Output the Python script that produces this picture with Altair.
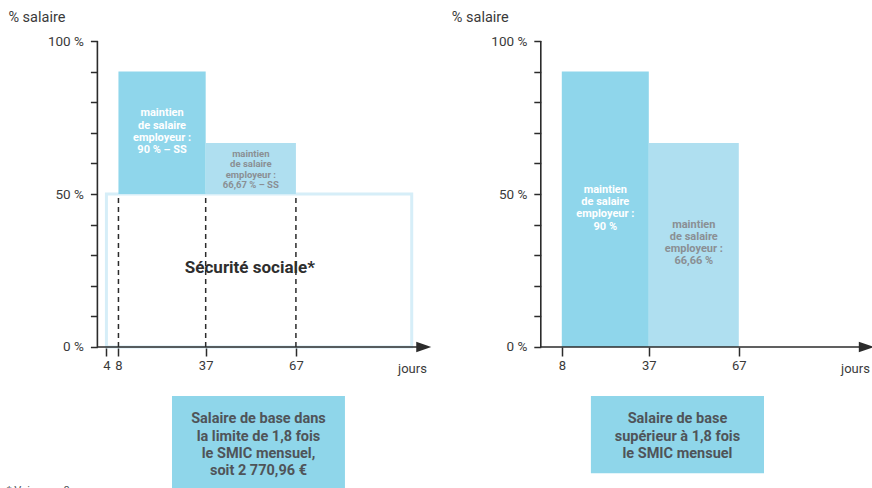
import altair as alt
import pandas as pd

# ---------------- data ----------------
y_ticks = [0, 10, 20, 30, 40, 50, 60, 70, 80, 90, 100]
left_day_ticks = [4, 8, 37, 67]
right_day_ticks = [8, 37, 67]
period_start = [8, 37]
period_end = [37, 67]
employer_rate = [90, 66.67]
ss_start_day = 4
ss_end_day = 105.5
ss_rate = 50
left_bar_labels = ["maintien\nde salaire\nemployeur :\n90 % – SS",
                   "maintien\nde salaire\nemployeur :\n66,67 % – SS"]
right_bar_labels = ["maintien\nde salaire\nemployeur :\n90 %",
                    "maintien\nde salaire\nemployeur :\n66,66 %"]
ss_label = "Sécurité sociale*"
left_box_text = "Salaire de base dans\nla limite de 1,8 fois\nle SMIC mensuel,\nsoit 2 770,96 €"
right_box_text = "Salaire de base\nsupérieur à 1,8 fois\nle SMIC mensuel"
y_title = "% salaire"
x_title = "jours"
footnote = "* Voir page 8"

# ---------------- layout / style ----------------
FONT = "Roboto"
H = 488
W_LEFT, W_RIGHT = 440, 432
Y_DOMAIN = [-46.08, 113.4]
X_DOMAIN_LEFT = [-31.38, 114.9]
X_DOMAIN_RIGHT = [-32.6, 111.4]
AXIS_DAY = 1
ARROW_DAY = 109.5
INK = "#2b2b2b"
INK2 = "#3a3a3a"
BAR_COLORS = ["#8fd6eb", "#afdff0"]
SS_STROKE = "#d6eef8"
BOX_FILL = "#8fd6ea"
BOX_TEXT = "#4f5459"
GREY_LABEL = "#8a8f94"
ARROW = "M-1,-0.7L1,0L-1,0.7Z"


def yscale():
    return alt.Scale(domain=Y_DOMAIN, nice=False, zero=False)


def xscale(dom):
    return alt.Scale(domain=dom, nice=False, zero=False)


def y_axis(offset):
    return alt.Axis(values=y_ticks,
                    labelExpr="datum.value % 50 === 0 ? datum.value + ' %' : ''",
                    domain=False, grid=False, tickSize=7, tickWidth=1.5,
                    tickColor=INK, labelPadding=7, labelFont=FONT, labelFontSize=13.5,
                    labelColor=INK2, labelOverlap=False,
                    title=y_title, titleAngle=0, titleAlign="left",
                    titleBaseline="middle", titleX=-89.5, titleY=17,
                    titleFont=FONT, titleFontSize=14.5, titleFontWeight="normal",
                    titleColor=INK2, offset=offset)


def x_axis(ticks, title_x):
    return alt.Axis(values=ticks, format="d", domain=False, grid=False,
                    tickSize=9, tickWidth=1.5, tickColor=INK, labelPadding=3,
                    labelFont=FONT, labelFontSize=13, labelColor=INK2,
                    labelOverlap=False, labelFlush=False,
                    title=x_title, titleX=title_x, titleY=21, titleBaseline="middle",
                    titleAlign="center", titleFont=FONT, titleFontSize=13,
                    titleFontWeight="normal", titleColor=INK2, offset=-141)


def panel(width, xdom, ticks, y_off, title_x, base, labels, label_specs,
          box_text, box_x, box_y, box_text_y, extra_left=False):
    xa_ = x_axis(ticks, title_x)
    ya_ = y_axis(y_off)
    X = lambda f: alt.X(f, type="quantitative", scale=xscale(xdom), axis=xa_)
    Y = lambda f: alt.Y(f, type="quantitative", scale=yscale(), axis=ya_)
    X2 = lambda f: alt.X2(f)
    Y2 = lambda f: alt.Y2(f)

    bars_df = pd.DataFrame({"start": period_start, "end": period_end,
                            "rate": employer_rate, "base": [base] * 2,
                            "color": BAR_COLORS, "label": labels})
    layers = []

    if extra_left:
        ss_df = pd.DataFrame({"s": [ss_start_day], "e": [ss_end_day],
                              "lo": [0], "hi": [ss_rate]})
        layers.append(alt.Chart(ss_df).mark_rect(
            fillOpacity=0, stroke=SS_STROKE, strokeWidth=3).encode(
            x=X("s"), x2=X2("e"), y=Y("lo"), y2=Y2("hi")))

    layers.append(alt.Chart(bars_df).mark_rect().encode(
        x=X("start"), x2=X2("end"),
        y=Y("base"), y2=Y2("rate"),
        color=alt.Color("color:N", scale=None)))

    for i, (ly, size, lh, col) in enumerate(label_specs):
        ldf = pd.DataFrame({"mid": [(period_start[i] + period_end[i]) / 2],
                            "y": [ly], "t": [labels[i]]})
        layers.append(alt.Chart(ldf).mark_text(
            font=FONT, fontWeight="bold", fontSize=size, lineHeight=lh,
            color=col, lineBreak="\n", baseline="middle", align="center").encode(
            x=X("mid"), y=Y("y"), text="t:N"))

    if extra_left:
        dash_df = pd.DataFrame({"d": period_start + [period_end[-1]],
                                "lo": [0] * 3, "hi": [ss_rate] * 3})
        layers.append(alt.Chart(dash_df).mark_rule(
            color=INK, strokeWidth=1.5, strokeDash=[5, 4]).encode(
            x=X("d"), y=Y("lo"), y2=Y2("hi")))
        sdf = pd.DataFrame({"x": [51.7], "y": [25.8], "t": [ss_label]})
        layers.append(alt.Chart(sdf).mark_text(
            font=FONT, fontWeight="bold", fontSize=17, color="#2e2e2e").encode(
            x=X("x"), y=Y("y"), text="t:N"))

    # axis lines
    ya = pd.DataFrame({"d": [AXIS_DAY], "lo": [min(y_ticks)], "hi": [max(y_ticks)]})
    layers.append(alt.Chart(ya).mark_rule(color=INK, strokeWidth=1.6).encode(
        x=X("d"), y=Y("lo"), y2=Y2("hi")))
    xa = pd.DataFrame({"a": [AXIS_DAY], "b": [ARROW_DAY], "v": [0]})
    layers.append(alt.Chart(xa).mark_rule(color=INK, strokeWidth=1.6).encode(
        x=X("a"), x2=X2("b"), y=Y("v")))
    ar = pd.DataFrame({"b": [ARROW_DAY], "v": [0]})
    layers.append(alt.Chart(ar).mark_point(
        shape=ARROW, size=225, filled=True, color=INK, opacity=1,
        strokeWidth=0, clip=True).encode(
        x=X("b"), y=Y("v")))

    # text box below
    bdf = pd.DataFrame({"x1": [box_x[0]], "x2": [box_x[1]],
                        "y1": [box_y[0]], "y2": [box_y[1]]})
    layers.append(alt.Chart(bdf).mark_rect(color=BOX_FILL, clip=True).encode(
        x=X("x1"), x2=X2("x2"), y=Y("y1"), y2=Y2("y2")))
    tdf = pd.DataFrame({"x": [(box_x[0] + box_x[1]) / 2], "y": [box_text_y],
                        "t": [box_text]})
    layers.append(alt.Chart(tdf).mark_text(
        font=FONT, fontWeight="bold", fontSize=14.5, lineHeight=17.4,
        color=BOX_TEXT, lineBreak="\n", baseline="middle").encode(
        x=X("x"), y=Y("y"), text="t:N"))

    if extra_left:
        fdf = pd.DataFrame({"x": [-29.1], "y": [-45.1], "t": [footnote]})
        layers.append(alt.Chart(fdf).mark_text(
            font=FONT, fontSize=11, color=BOX_TEXT, align="left",
            baseline="top", clip=True).encode(
            x=X("x"), y=Y("y"), text="t:N"))

    return alt.layer(*layers).properties(width=width, height=H)


left = panel(W_LEFT, X_DOMAIN_LEFT, left_day_ticks, -97.4, 412, ss_rate,
             left_bar_labels,
             [(76.4, 11, 12.4, "white"), (63.2, 9.5, 10.5, GREY_LABEL)],
             left_box_text, (25.8, 83.3), (-16.0, -47), -23.6, extra_left=True)
right = panel(W_RIGHT, X_DOMAIN_RIGHT, right_day_ticks, -100.8, 415, 0,
              right_bar_labels,
              [(51.3, 11, 12.2, "white"), (39.9, 11, 12.2, GREY_LABEL)],
              right_box_text, (17.7, 75.4), (-16.0, -41.3), -23.6)

chart = alt.hconcat(left, right, spacing=0).properties(
    padding=0, background="white"
).configure_view(stroke=None).resolve_scale(x="independent")

chart.save("out.html", embed_options={"renderer": "svg", "actions": False})
